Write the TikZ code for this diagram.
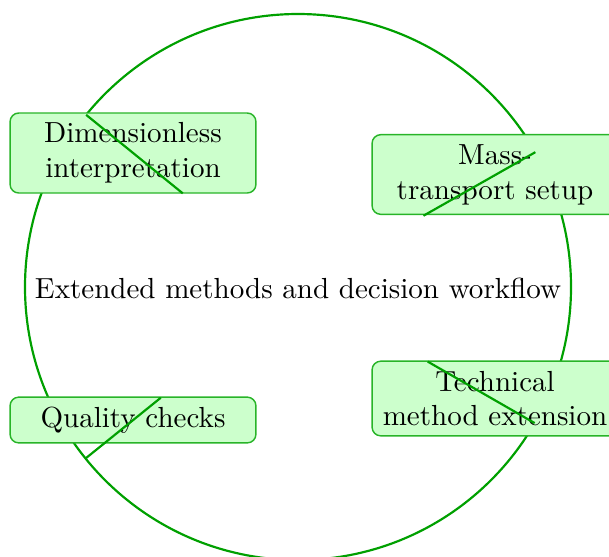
\documentclass[tikz,border=0pt]{standalone}
\usetikzlibrary{calc}
\definecolor{ringgreen}{RGB}{0,160,0}
\definecolor{boxfill}{RGB}{204,255,204}
\definecolor{boxline}{RGB}{40,180,40}
\begin{document}
\begin{tikzpicture}[x=0.3443pt,y=0.3443pt,
  stagebox/.style={draw=boxline, line width=0.5pt, fill=boxfill, rounded corners=3pt,
    text width=78pt, align=center, inner sep=3.33pt, font=\normalsize},
  ring/.style={draw=ringgreen, line width=0.75pt},
  tick/.style={draw=ringgreen, line width=0.75pt}]
\useasboundingbox (0,0) rectangle (609,556);
\coordinate (c) at (298,269);
\draw[ring] (c) circle[radius=273];
\node (title) at (298,268) {Extended methods and decision workflow};
\node[stagebox] (dim) at (133,403) {Dimensionless\\interpretation};
\node[stagebox] (mass) at (495,381.5) {Mass-\\transport setup};
\node[stagebox] (tech) at (495,157.5) {Technical\\method extension};
\node[stagebox] (qual) at (133,136) {Quality checks};
\coordinate (d1) at ($(c)+(140.9:273)$);
\coordinate (d2) at ($(c)+(140.9:148.5)$);
\coordinate (m1) at ($(c)+(29.6:273)$);
\coordinate (m2) at ($(c)+(29.6:144.3)$);
\coordinate (t1) at ($(c)+(-29.9:273)$);
\coordinate (t2) at ($(c)+(-29.9:149.6)$);
\coordinate (q1) at ($(c)+(218.9:273)$);
\coordinate (q2) at ($(c)+(218.9:176.3)$);
\draw[tick] (d1) -- (d2);
\draw[tick] (m1) -- (m2);
\draw[tick] (t1) -- (t2);
\draw[tick] (q1) -- (q2);
\end{tikzpicture}
\end{document}
